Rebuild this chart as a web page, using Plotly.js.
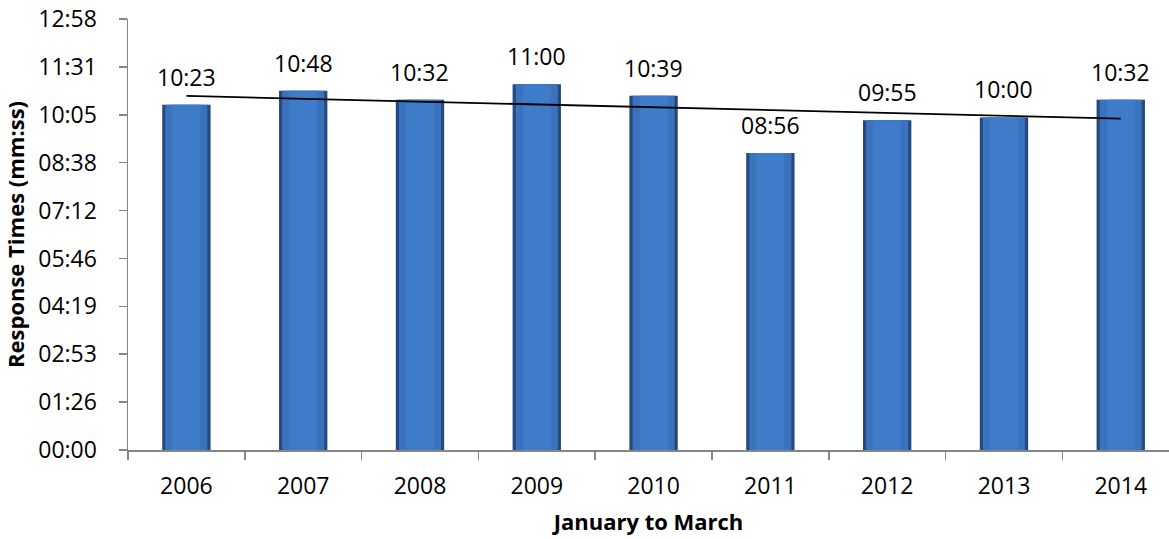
<!DOCTYPE html>
<html>
<head>
<meta charset="utf-8">
<script src="https://cdn.plot.ly/plotly-3.0.1.min.js"></script>
<style>html,body{margin:0;padding:0;background:#fff;}#chart{width:1169px;height:539px;}</style>
</head>
<body>
<div id="chart"></div>
<script>
// Data
const years = ['2006','2007','2008','2009','2010','2011','2012','2013','2014'];
const responseTimes = ['10:23','10:48','10:32','11:00','10:39','08:56','09:55','10:00','10:32'];
const yTickLabels = ['00:00','01:26','02:53','04:19','05:46','07:12','08:38','10:05','11:31','12:58'];

function toSec(s){const p=s.split(':');return (+p[0])*60+(+p[1]);}
const seconds = responseTimes.map(toSec);
const tickStep = 86.4; // Excel 0.001 day
const tickVals = yTickLabels.map((_,i)=>i*tickStep);

// linear trendline (least squares over category index)
const n = seconds.length;
const xs = seconds.map((_,i)=>i);
const mx = xs.reduce((a,b)=>a+b,0)/n;
const my = seconds.reduce((a,b)=>a+b,0)/n;
let sxy=0,sxx=0;
for(let i=0;i<n;i++){sxy+=(xs[i]-mx)*(seconds[i]-my);sxx+=(xs[i]-mx)*(xs[i]-mx);}
const slope=sxy/sxx, icpt=my-slope*mx;
const trendY=[icpt+slope*0, icpt+slope*(n-1)];

const font = '"Open Sans", "DejaVu Sans", sans-serif';

const traces = [
  {type:'bar', x:years, y:seconds, width:0.414,
   marker:{color:'#24497d', line:{width:0}}, hoverinfo:'skip', showlegend:false},
  {type:'bar', x:years, y:seconds, width:0.36,
   marker:{color:'#3a72bb', line:{width:0}}, hoverinfo:'skip', showlegend:false},
  {type:'bar', x:years, y:seconds, width:0.24,
   marker:{color:'#3e7bc8', line:{width:0}}, hoverinfo:'skip', showlegend:false},
  {type:'scatter', mode:'lines', x:[years[0], years[n-1]], y:trendY,
   line:{color:'#000000', width:1.8}, hoverinfo:'skip', showlegend:false}
];

const annotations = [];
for (let i=0;i<n;i++){
  annotations.push({
    x:i, y:seconds[i], xref:'x', yref:'y', text:responseTimes[i],
    showarrow:false, xanchor:'center', yanchor:'middle', yshift:28,
    font:{family:font, size:23, color:'#000000'}
  });
}

const layout = {
  width:1169, height:539,
  margin:{l:128, r:0, t:19, b:89, pad:0},
  paper_bgcolor:'#fff', plot_bgcolor:'#fff',
  barmode:'overlay',
  showlegend:false,
  font:{family:font, size:23, color:'#000'},
  xaxis:{
    type:'category', range:[-0.5, 8.413],
    showline:true, linecolor:'#868686', linewidth:1.5,
    ticks:'outside', ticklen:8, tickcolor:'#868686', tickwidth:1.5,
    tickson:'boundaries', showgrid:false, zeroline:false,
    ticklabelstandoff:15,
    tickfont:{family:font, size:23, color:'#000'},
    title:{text:'<b>January to March</b>', font:{family:font, size:22, color:'#000'}, standoff:14}
  },
  yaxis:{
    range:[0, 777.6], tickmode:'array', tickvals:tickVals, ticktext:yTickLabels,
    showline:true, linecolor:'#868686', linewidth:1.5,
    ticks:'outside', ticklen:8, tickcolor:'#868686', tickwidth:1.5,
    showgrid:false, zeroline:false,
    ticklabelstandoff:17,
    tickfont:{family:font, size:23, color:'#000'},
    title:{text:'<b>Response Times (mm:ss)</b>', font:{family:font, size:22, color:'#000'}, standoff:10}
  },
  annotations:annotations
};

Plotly.newPlot('chart', traces, layout, {displayModeBar:false, staticPlot:true});
</script>
</body>
</html>
